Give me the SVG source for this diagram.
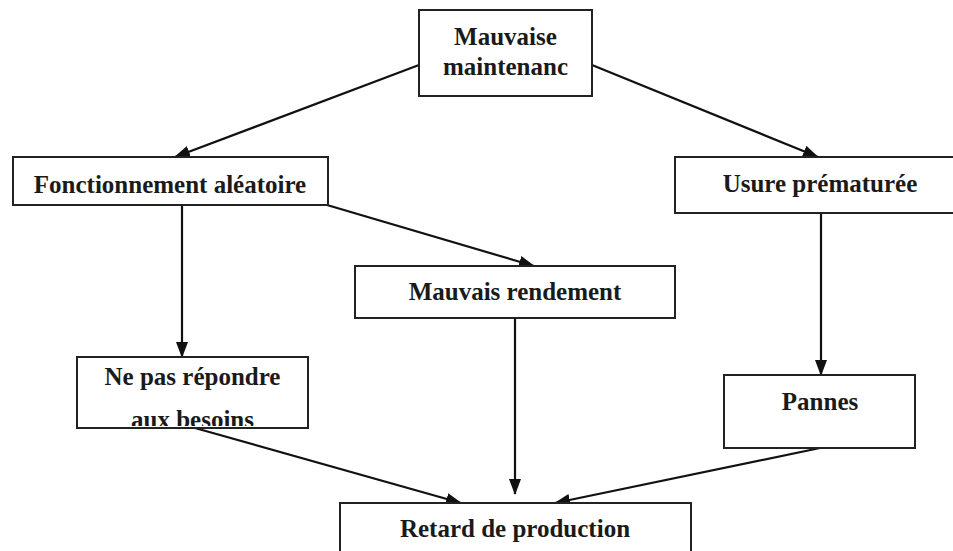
<svg xmlns="http://www.w3.org/2000/svg" width="953" height="551" viewBox="0 0 953 551">
<style>
.box{fill:#fff;stroke:#222;stroke-width:2}
.t{font-family:'Liberation Serif','DejaVu Serif','Times New Roman',serif;font-weight:bold;font-size:25px;fill:#1a1a1a;text-anchor:middle}
.c{stroke:#111;stroke-width:2.2;fill:none;marker-end:url(#ah)}
</style>
<defs>
<marker id="ah" markerUnits="userSpaceOnUse" markerWidth="16" markerHeight="12" refX="15" refY="6" orient="auto">
<path d="M0,0 L16,6 L0,12 z" fill="#111"/>
</marker>
<clipPath id="clipNe"><rect x="77" y="357" width="231" height="69"/></clipPath>
</defs>
<rect width="953" height="551" fill="#fff"/>
<g id="connectors">
<line class="c" x1="419" y1="65" x2="175" y2="157"/>
<line class="c" x1="592" y1="65" x2="818" y2="157"/>
<line class="c" x1="182" y1="205" x2="182" y2="357"/>
<line class="c" x1="327" y1="205" x2="534" y2="266"/>
<line class="c" x1="821" y1="213" x2="821" y2="375"/>
<line class="c" x1="515" y1="318" x2="515" y2="494"/>
<line class="c" x1="195" y1="428" x2="461" y2="503"/>
<line class="c" x1="820" y1="448" x2="555" y2="503"/>
</g>
<g id="n-mauvaise-maintenance">
<rect class="box" x="419" y="10" width="173" height="86"/>
<text class="t" x="505.5" y="45" font-family="Liberation Serif, serif">Mauvaise</text>
<text class="t" x="505.5" y="75" font-family="Liberation Serif, serif">maintenanc</text>
</g>
<g id="n-fonctionnement">
<rect class="box" x="13" y="157" width="315" height="48"/>
<text class="t" x="170" y="193">Fonctionnement aléatoire</text>
</g>
<g id="n-usure">
<rect class="box" x="675" y="157" width="290" height="56"/>
<text class="t" x="820" y="192">Usure prématurée</text>
</g>
<g id="n-rendement">
<rect class="box" x="355" y="266" width="320" height="52"/>
<text class="t" x="515" y="300">Mauvais rendement</text>
</g>
<g id="n-ne-pas">
<rect class="box" x="77" y="357" width="231" height="71"/>
<g clip-path="url(#clipNe)">
<text class="t" x="192.5" y="385">Ne pas répondre</text>
<text class="t" x="192.5" y="428">aux besoins</text>
</g>
</g>
<g id="n-pannes">
<rect class="box" x="724" y="375" width="191" height="73"/>
<text class="t" x="820" y="410">Pannes</text>
</g>
<g id="n-retard">
<rect class="box" x="340" y="503" width="351" height="60"/>
<text class="t" x="515" y="537">Retard de production</text>
</g>
</svg>
